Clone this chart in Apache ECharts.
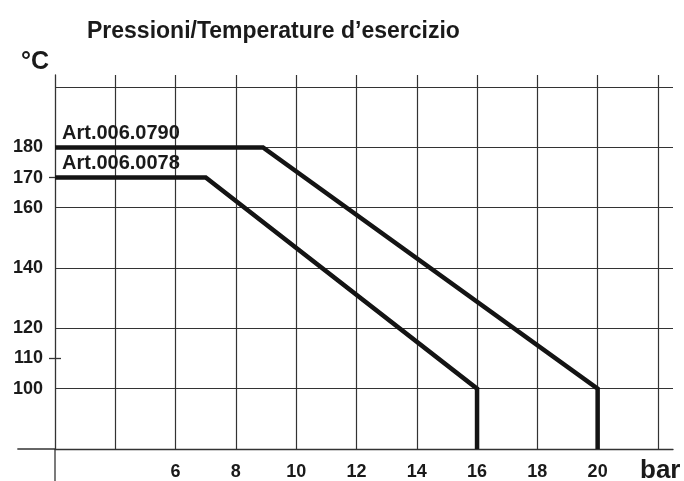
<!DOCTYPE html>
<html>
<head>
<meta charset="utf-8">
<script src="https://cdn.jsdelivr.net/npm/echarts@6/dist/echarts.min.js"></script>
<style>
html,body{margin:0;padding:0;background:#fff;}
#c{width:684px;height:481px;}
</style>
</head>
<body>
<div id="c"></div>
<script>
// ---- data ----
const titleText = 'Pressioni/Temperature d\u2019esercizio';
const yUnit = '\u00B0C';
const xUnit = 'bar';
const xTickLabels = [6, 8, 10, 12, 14, 16, 18, 20];
const yTickLabels = [100, 110, 120, 140, 160, 170, 180];
const yCrossTicks = [110, 170];
const seriesNames = ['Art.006.0790', 'Art.006.0078'];
const art0790 = [[2, 180], [8.9, 180], [20, 100], [20, 80]];
const art0078 = [[2, 170], [7, 170], [16, 100], [16, 80]];

const FONT = "'Liberation Sans', Arial, sans-serif";
const INK = '#1a1a1a';
const GRIDC = '#333';

const chart = echarts.init(document.getElementById('c'), null, {renderer: 'canvas'});

function lineSeries(name, data) {
  return {
    name: name,
    type: 'line',
    data: data,
    showSymbol: false,
    symbol: 'none',
    lineStyle: {color: '#141414', width: 4.5, cap: 'butt', join: 'miter'},
    z: 5,
    silent: true,
    animation: false,
    markPoint: {
      symbol: 'circle',
      symbolSize: 0,
      silent: true,
      animation: false,
      data: [{
        coord: data[0],
        label: {
          show: true,
          formatter: name,
          position: 'right',
          distance: 7,
          offset: [0, -14],
          color: INK,
          fontFamily: FONT,
          fontWeight: 'bold',
          fontSize: 20
        }
      }]
    }
  };
}

const yBase = {type: 'value', min: 80, max: 204, interval: 20, position: 'left'};

const option = {
  animation: false,
  backgroundColor: '#fff',
  title: [
    {text: titleText, left: 87, top: 20, padding: 0,
     textStyle: {fontFamily: FONT, fontWeight: 'bold', fontSize: 23, color: INK}},
    {text: yUnit, left: 21, top: 50, padding: 0,
     textStyle: {fontFamily: FONT, fontWeight: 'bold', fontSize: 25, color: INK}},
    {text: xUnit, left: 640, top: 458, padding: 0,
     textStyle: {fontFamily: FONT, fontWeight: 'bold', fontSize: 26, color: INK}}
  ],
  grid: {left: 55, right: 11, top: 75, bottom: 30, containLabel: false},
  xAxis: {
    type: 'value', min: 2, max: 22.5, interval: 2,
    axisLine: {show: true, lineStyle: {color: GRIDC, width: 1.3}},
    axisTick: {show: false},
    splitLine: {show: true, showMinLine: false, showMaxLine: false, lineStyle: {color: GRIDC, width: 1.2}},
    axisLabel: {
      customValues: xTickLabels,
      margin: 14,
      color: INK, fontFamily: FONT, fontWeight: 'bold', fontSize: 18
    }
  },
  yAxis: [
    Object.assign({}, yBase, {
      offset: 0,
      axisLine: {show: true, lineStyle: {color: GRIDC, width: 1.3}},
      axisTick: {show: false},
      splitLine: {show: true, showMinLine: false, showMaxLine: false, lineStyle: {color: GRIDC, width: 1.2}},
      axisLabel: {show: false}
    }),
    Object.assign({}, yBase, {
      offset: 0,
      axisLine: {show: false},
      axisTick: {show: false},
      splitLine: {show: false},
      axisLabel: {
        customValues: yTickLabels,
        margin: 12,
        color: INK, fontFamily: FONT, fontWeight: 'bold', fontSize: 18
      }
    }),
    Object.assign({}, yBase, {
      offset: -6,
      axisLine: {show: false},
      axisTick: {show: true, customValues: yCrossTicks, length: 12, inside: false, lineStyle: {color: GRIDC, width: 1.3}},
      splitLine: {show: false},
      axisLabel: {show: false}
    })
  ],
  series: [
    lineSeries(seriesNames[0], art0790),
    lineSeries(seriesNames[1], art0078)
  ]
};
chart.setOption(option);

// extend the axis lines past the plot, as in the reference
const origin = chart.convertToPixel({gridIndex: 0}, [2, 80]);
const leftEnd = chart.convertToPixel({gridIndex: 0}, [0.75, 80]);
chart.setOption({
  graphic: [
    {type: 'line', silent: true, z: 1,
     shape: {x1: leftEnd[0], y1: origin[1], x2: origin[0], y2: origin[1]},
     style: {stroke: GRIDC, lineWidth: 1.3}},
    {type: 'line', silent: true, z: 1,
     shape: {x1: origin[0], y1: origin[1], x2: origin[0], y2: 481},
     style: {stroke: GRIDC, lineWidth: 1.3}}
  ]
});
</script>
</body>
</html>
